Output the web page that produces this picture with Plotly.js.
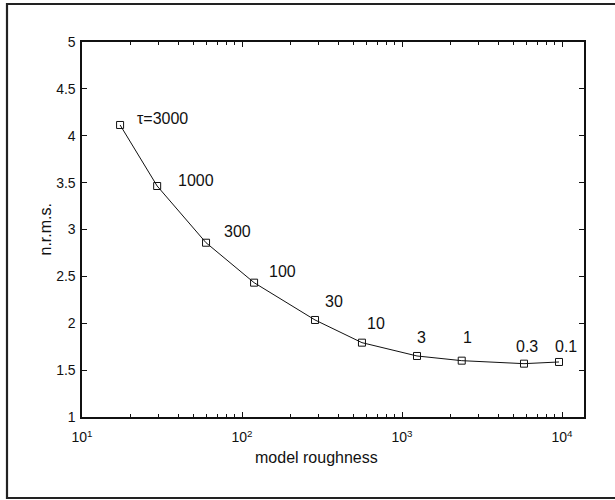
<!DOCTYPE html>
<html>
<head>
<meta charset="utf-8">
<script src="https://cdn.plot.ly/plotly-3.0.1.min.js"></script>
<style>html,body{margin:0;padding:0;background:#fff;}#chart{width:615px;height:500px;}</style>
</head>
<body>
<div id="chart"></div>
<script>
// ---- data ----
var roughness = [17.3, 29.5, 59.6, 119, 286, 562, 1241, 2362, 5787, 9578];
var nrms = [4.115, 3.464, 2.859, 2.433, 2.035, 1.793, 1.651, 1.601, 1.569, 1.587];
var tauLabels = ['\u03c4=3000', '1000', '300', '100', '30', '10', '3', '1', '0.3', '0.1'];
var xTickVals = [10, 100, 1000, 10000];
var xTickText = ['10<sup>1</sup>', '10<sup>2</sup>', '10<sup>3</sup>', '10<sup>4</sup>'];
var yTickVals = [1, 1.5, 2, 2.5, 3, 3.5, 4, 4.5, 5];
var yTickText = ['1', '1.5', '2', '2.5', '3', '3.5', '4', '4.5', '5'];
var xTitle = 'model roughness';
var yTitle = 'n.r.m.s.';

// ---- label offsets (pixels from each marker) ----
var labelDx = [15, 19, 16, 13, 8, 3, -2, -1, -10, -6];
var labelDy = [6, 6, 11, 11, 18, 19, 18, 23, 17, 15];

var minorVals = [];
[10, 100, 1000, 10000].forEach(function (d) {
  for (var k = 2; k <= 9; k++) minorVals.push(d * k);
});

var font = '"Liberation Sans", Arial, Helvetica, sans-serif';

var annotations = tauLabels.map(function (t, i) {
  return {
    x: Math.log10(roughness[i]), y: nrms[i], xref: 'x', yref: 'y',
    text: t, showarrow: false, xanchor: 'left', yanchor: 'middle',
    xshift: labelDx[i], yshift: labelDy[i],
    font: {family: font, size: 16, color: '#111'}
  };
});
annotations.push({
  x: 0.468, y: -0.107, xref: 'paper', yref: 'paper', text: xTitle,
  showarrow: false, xanchor: 'center', yanchor: 'middle',
  font: {family: font, size: 16, color: '#111'}
});
annotations.push({
  x: -0.0737, y: 0.5, xref: 'paper', yref: 'paper', text: yTitle,
  showarrow: false, xanchor: 'center', yanchor: 'middle', textangle: -90,
  font: {family: font, size: 16, color: '#111'}
});

var trace = {
  x: roughness, y: nrms, type: 'scatter', mode: 'lines+markers',
  line: {color: '#111', width: 1},
  marker: {symbol: 'square-open', size: 7, color: '#111', line: {width: 1, color: '#111'}},
  showlegend: false, hoverinfo: 'skip'
};

var layout = {
  width: 615, height: 500,
  margin: {l: 82, r: 31, t: 42, b: 83, pad: 0},
  paper_bgcolor: '#fff', plot_bgcolor: '#fff',
  font: {family: font, size: 14, color: '#111'},
  xaxis: {
    type: 'log', range: [1, 4.1375], autorange: false,
    tickmode: 'array', tickvals: xTickVals, ticktext: xTickText,
    ticks: 'inside', ticklen: 5, tickwidth: 1, tickcolor: '#111',
    showline: true, linecolor: '#111', linewidth: 1.6, mirror: 'ticks',
    showgrid: false, zeroline: false, ticklabelstandoff: 7,
    tickfont: {family: font, size: 14, color: '#111'},
    minor: {tickmode: 'array', tickvals: minorVals, ticks: 'inside', ticklen: 3, tickwidth: 1, tickcolor: '#111', showgrid: false}
  },
  yaxis: {
    range: [1, 5], autorange: false,
    tickmode: 'array', tickvals: yTickVals, ticktext: yTickText,
    ticks: 'inside', ticklen: 5, tickwidth: 1, tickcolor: '#111',
    showline: true, linecolor: '#111', linewidth: 1.6, mirror: 'ticks',
    showgrid: false, zeroline: false, ticklabelstandoff: 2,
    tickfont: {family: font, size: 14, color: '#111'}
  },
  annotations: annotations,
  shapes: [{
    type: 'rect', xref: 'paper', yref: 'paper',
    x0: -0.1494, x1: 1.12, y0: -0.216, y1: 1.1013,
    line: {color: '#222', width: 2.2}, fillcolor: 'rgba(0,0,0,0)'
  }]
};

Plotly.newPlot('chart', [trace], layout, {staticPlot: true, displayModeBar: false});
</script>
</body>
</html>
